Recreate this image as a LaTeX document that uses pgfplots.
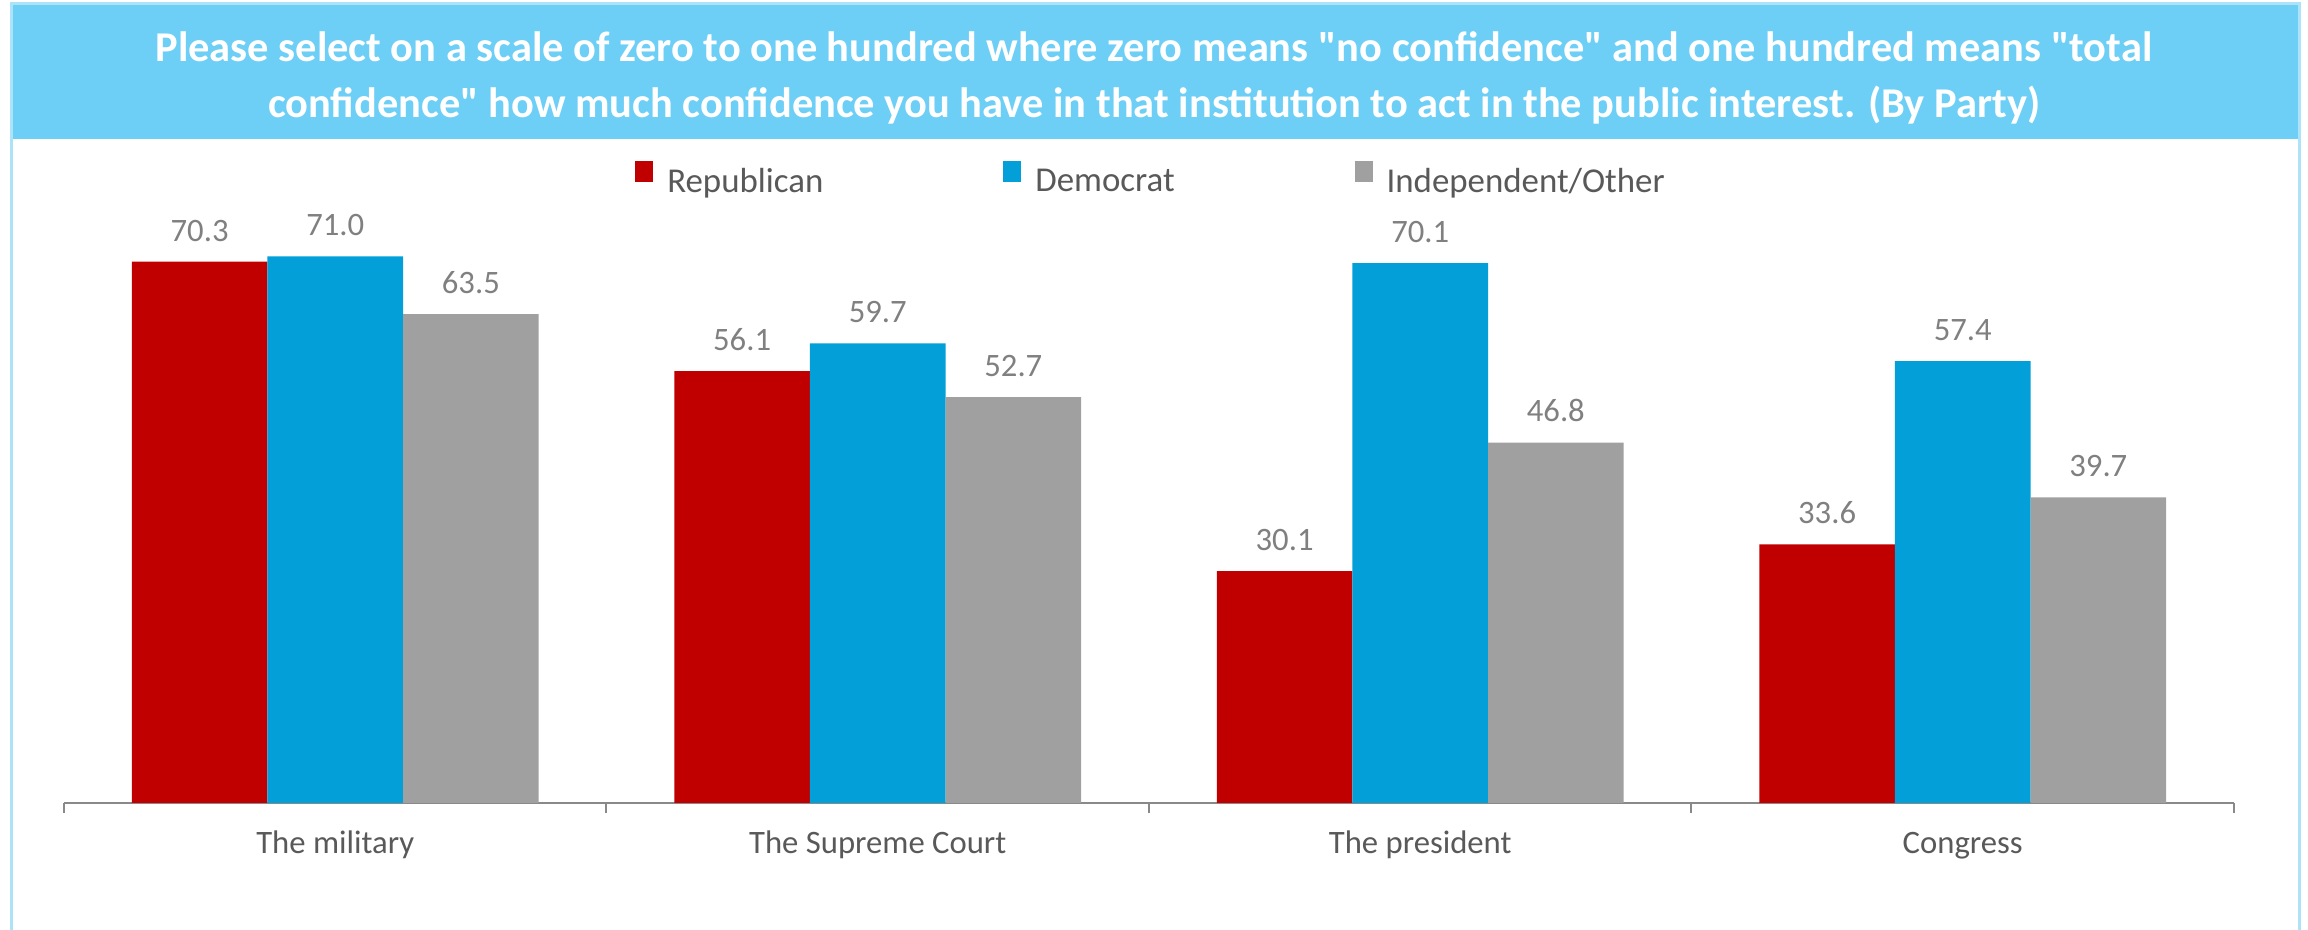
\documentclass[border=0pt]{standalone}
\usepackage{fontspec}
\setmainfont{Carlito}[Ligatures=TeXOff]
\usepackage{pgfplots}
\pgfplotsset{compat=1.18}
\definecolor{rep}{RGB}{192,0,0}
\definecolor{dem}{RGB}{2,159,217}
\definecolor{ind}{RGB}{160,160,160}
\definecolor{banner}{RGB}{109,207,246}
\definecolor{framec}{RGB}{173,227,248}
\definecolor{axisgrey}{RGB}{137,137,137}
\definecolor{labgrey}{RGB}{89,89,89}
\definecolor{valgrey}{RGB}{128,128,128}
\pgfplotsset{sq legend/.style={legend image code/.code={\fill[##1] (0bp,0bp) rectangle (9bp,10.3bp); \path (14bp,0bp);}}}
\begin{document}
\begin{tikzpicture}
\useasboundingbox (0,0) rectangle (1154bp,465bp);
\fill[white] (0,0) rectangle (1154bp,465bp);
\fill[banner] (5.5bp,395.5bp) rectangle (1149.5bp,463bp);
\draw[framec, line width=1.5bp] (5.5bp,0bp) -- (5.5bp,463bp) -- (1149.5bp,463bp) -- (1149.5bp,0bp);
\node[anchor=base, text=white, font=\fontsize{21.3}{24}\selectfont\bfseries, inner sep=0pt] at (577bp,434bp) {Please select on a scale of zero to one hundred where zero means "no confidence" and one hundred means "total};
\node[anchor=base, text=white, font=\fontsize{21.3}{24}\selectfont\bfseries, inner sep=0pt] at (577bp,406bp) {confidence" how much confidence you have in that institution to act in the public interest. (By Party)};
\begin{axis}[
  at={(32bp,63.5bp)}, anchor=south west,
  scale only axis, width=1085bp, height=308bp,
  xmin=-0.5, xmax=3.5, ymin=0, ymax=80,
  ybar=0pt, bar width=67.8bp,
  axis x line*=bottom, axis y line=none,
  axis line style={draw=axisgrey, line width=1bp},
  xtick={0,1,2,3},
  xticklabels={The military, The Supreme Court, The president, Congress},
  major tick length=0pt,
  minor xtick={-0.5,0.5,1.5,2.5,3.5},
  minor tick length=5bp,
  tick align=outside,
  minor tick style={draw=axisgrey, line width=1bp},
  xticklabel style={anchor=base, yshift=-25.5bp, text=labgrey, font=\fontsize{16.4}{20}\selectfont},
  ytick=\empty,
  nodes near coords={\pgfmathprintnumber[fixed,fixed zerofill,precision=1,assume math mode=true]{\pgfplotspointmeta}},
  every node near coord/.append style={anchor=south, inner sep=0pt, yshift=10bp, text=valgrey, font=\fontsize{16.4}{20}\selectfont},
  legend columns=-1,
  legend style={at={(0.5014,1.011)}, anchor=center, draw=none, fill=none, text=labgrey, font=\fontsize{17.5}{20}\selectfont, /tikz/every even column/.append style={column sep=88bp}},
]
\addplot[fill=rep, draw=none, sq legend] coordinates {(0,70.3) (1,56.1) (2,30.1) (3,33.6)};
\addplot[fill=dem, draw=none, sq legend] coordinates {(0,71.0) (1,59.7) (2,70.1) (3,57.4)};
\addplot[fill=ind, draw=none, sq legend] coordinates {(0,63.5) (1,52.7) (2,46.8) (3,39.7)};
\legend{Republican, Democrat, Independent/Other}
\end{axis}
\end{tikzpicture}
\end{document}
